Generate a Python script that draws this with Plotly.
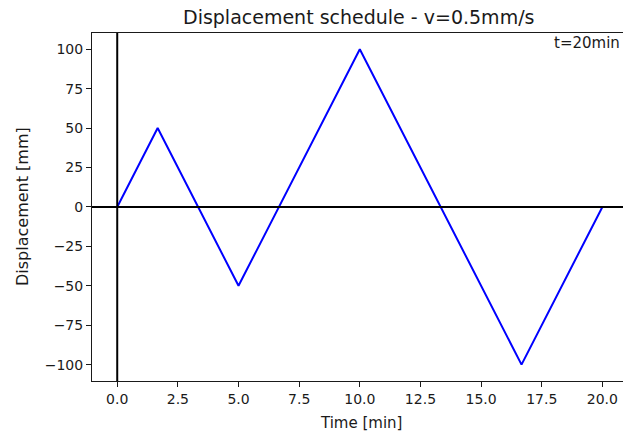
import plotly.graph_objects as go

time_min = [0, 5/3, 5, 10, 50/3, 20]
displacement_mm = [0, 50, -50, 100, -100, 0]
x_ticks = [0, 2.5, 5, 7.5, 10, 12.5, 15, 17.5, 20]
x_tick_labels = ["0.0", "2.5", "5.0", "7.5", "10.0", "12.5", "15.0", "17.5", "20.0"]
y_ticks = [-100, -75, -50, -25, 0, 25, 50, 75, 100]
y_tick_labels = ["\u2212100", "\u221275", "\u221250", "\u221225", "0", "25", "50", "75", "100"]

font = "DejaVu Sans"
ink = "#1a1a1a"
fig = go.Figure()
fig.add_trace(go.Scatter(x=time_min, y=displacement_mm, mode="lines",
                         line=dict(color="blue", width=2), showlegend=False))

fig.add_shape(type="line", xref="paper", yref="y", x0=0, x1=1, y0=0, y1=0,
              line=dict(color="black", width=2), layer="above")
fig.add_shape(type="line", xref="x", yref="paper", x0=0, x1=0, y0=0, y1=1,
              line=dict(color="black", width=2), layer="above")

fig.update_layout(
    width=623, height=436,
    margin=dict(l=92, r=0, t=33, b=55),
    paper_bgcolor="white", plot_bgcolor="white",
    font=dict(family=font, size=14, color=ink),
    xaxis=dict(range=[-1.04, 20.85], tickvals=x_ticks, ticktext=x_tick_labels,
               showgrid=False, zeroline=False, showline=True, linecolor=ink, linewidth=1,
               mirror=True, ticks="outside", ticklen=5, tickcolor=ink, tickwidth=1),
    yaxis=dict(range=[-110.4, 110.3], tickvals=y_ticks, ticktext=y_tick_labels,
               showgrid=False, zeroline=False, showline=True, linecolor=ink, linewidth=1,
               ticks="outside", ticklen=5, tickcolor=ink, tickwidth=1),
)

# title
fig.add_annotation(text="Displacement schedule - v=0.5mm/s", xref="paper", yref="paper",
                   x=0.5, y=1, xanchor="center", yanchor="middle", xshift=1, yshift=16,
                   showarrow=False, font=dict(size=19, family=font, color=ink))
# axis titles
fig.add_annotation(text="Time [min]", xref="paper", yref="paper", x=0.5, y=0,
                   xanchor="center", yanchor="middle", xshift=3, yshift=-42,
                   showarrow=False, font=dict(size=15, family=font, color=ink))
fig.add_annotation(text="Displacement [mm]", xref="paper", yref="paper", x=0, y=0.5,
                   xanchor="center", yanchor="middle", xshift=-70, textangle=-90,
                   showarrow=False, font=dict(size=16, family=font, color=ink))
fig.add_annotation(text="t=20min", xref="paper", yref="paper", x=1, y=1,
                   xanchor="right", yanchor="middle", showarrow=False, xshift=-1, yshift=-10,
                   font=dict(size=15, family=font, color=ink))

fig.write_html("out.html", config={"displayModeBar": False},
               post_script="document.body.style.margin='0';document.body.style.overflow='hidden';")
